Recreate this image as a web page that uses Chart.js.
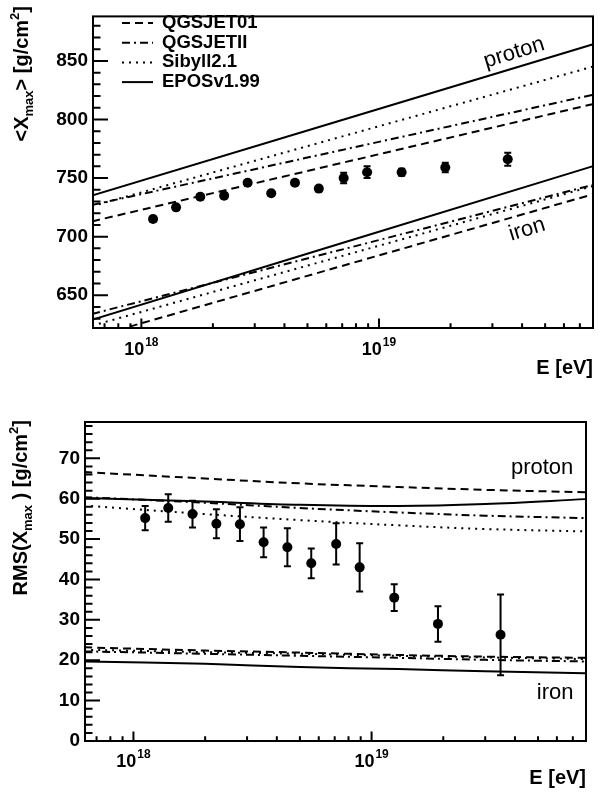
<!DOCTYPE html>
<html>
<head>
<meta charset="utf-8">
<title>Xmax vs energy</title>
<script src="https://cdn.jsdelivr.net/npm/chart.js@4.4.1/dist/chart.umd.min.js"></script>
<style>
  body { margin: 0; background: #fff; }
  .panel { position: absolute; left: 0; width: 598px; height: 397px; }
</style>
</head>
<body>
<div class="panel" style="top:0"><canvas id="meanChart" width="598" height="397"></canvas></div>
<div class="panel" style="top:397px"><canvas id="rmsChart" width="598" height="397"></canvas></div>
<script>
// measured points (energy bins in eV)
const energy = [1.12e18, 1.40e18, 1.77e18, 2.23e18, 2.80e18, 3.52e18, 4.43e18, 5.58e18, 7.10e18, 8.91e18, 1.245e19, 1.90e19, 3.48e19];
const xmaxMean = [715, 725, 734, 735, 746, 737, 746, 741, 750, 755, 755, 759, 766];
const xmaxMeanErr = [2, 2, 2, 2, 2, 2, 2, 2, 4.5, 5, 3, 4, 5.5];
const xmaxRms = [55.2, 57.7, 56.2, 53.8, 53.7, 49.2, 48.0, 44.0, 48.8, 43.0, 35.5, 29.0, 26.3];
const xmaxRmsErr = [3.0, 3.4, 3.3, 3.6, 4.2, 3.7, 4.7, 3.7, 5.1, 6.0, 3.3, 4.4, 10.0];

const modelNames = ['QGSJET01', 'QGSJETII', 'Sibyll2.1', 'EPOSv1.99'];
const modelDash = [[8, 5], [8, 4, 2, 4], [2, 5], []];

// <Xmax> predictions, same order as modelNames
const meanModelEnergy = [6.2e17, 7.9e19];
const meanProton = [[713, 813], [727, 821], [726, 845], [735, 864]];
const meanIron = [[614, 736], [634, 744], [624, 743], [629, 760]];

// RMS(Xmax) predictions
const rmsModelEnergy = [6.2e17, 2e18, 5e18, 1.3e19, 3e19, 7.9e19];
const rmsProton = [
  [66.6, 65.0, 63.8, 62.9, 62.2, 61.6],
  [60.4, 59.0, 57.7, 56.6, 55.8, 55.2],
  [58.3, 56.2, 54.7, 53.4, 52.5, 51.9],
  [60.2, 59.3, 58.5, 58.2, 58.7, 59.9]
];
const rmsIron = [
  [23.2, 22.4, 21.9, 21.3, 20.9, 20.6],
  [22.2, 21.6, 21.1, 20.6, 20.1, 19.7],
  [22.6, 22.0, 21.6, 21.1, 20.7, 20.3],
  [19.7, 19.1, 18.3, 17.8, 17.3, 16.8]
];

const FONT = "'Liberation Sans', Arial, Helvetica, sans-serif";
Chart.defaults.font.family = FONT;
Chart.defaults.color = '#000';

function modelSets(energies, groups) {
  const sets = [];
  groups.forEach(group => group.forEach((vals, m) => {
    sets.push({
      data: energies.map((e, i) => ({x: e, y: vals[i]})),
      borderColor: '#000',
      borderWidth: 2,
      borderDash: modelDash[m],
      pointRadius: 0,
      fill: false,
      tension: 0.35
    });
  }));
  return sets;
}

// ROOT-like frame: box, inward ticks, 10^n labels, y title, legend, error bars, notes
function rootFrame(cfg) {
  return {
    id: 'rootFrame',
    afterDatasetsDraw(chart) {
      const {ctx, chartArea: a, scales: {x, y}} = chart;
      ctx.save();
      ctx.beginPath();
      ctx.rect(a.left, a.top, a.width, a.height);
      ctx.clip();
      ctx.strokeStyle = '#000';
      ctx.lineWidth = 2;
      cfg.values.forEach((v, i) => {
        const px = x.getPixelForValue(energy[i]);
        const lo = y.getPixelForValue(v - cfg.errors[i]);
        const hi = y.getPixelForValue(v + cfg.errors[i]);
        ctx.beginPath();
        ctx.moveTo(px, lo); ctx.lineTo(px, hi);
        ctx.moveTo(px - 3.5, lo); ctx.lineTo(px + 3.5, lo);
        ctx.moveTo(px - 3.5, hi); ctx.lineTo(px + 3.5, hi);
        ctx.stroke();
      });
      ctx.restore();
    },
    afterDraw(chart) {
      const {ctx, chartArea: a, scales: {x, y}} = chart;
      ctx.save();
      ctx.strokeStyle = '#000';
      ctx.fillStyle = '#000';
      ctx.lineWidth = 2;
      ctx.strokeRect(a.left, a.top, a.width, a.height);

      ctx.beginPath();
      for (let v = Math.ceil(y.min / cfg.yMinor) * cfg.yMinor; v <= y.max; v += cfg.yMinor) {
        const py = y.getPixelForValue(v);
        const len = v % cfg.yMajor === 0 ? 15 : 7.5;
        ctx.moveTo(a.left, py); ctx.lineTo(a.left + len, py);
      }
      for (let d = 17; d <= 19; d++) {
        for (let k = 1; k <= 9; k++) {
          const e = k * Math.pow(10, d);
          if (e < x.min || e > x.max) continue;
          const px = x.getPixelForValue(e);
          ctx.moveTo(px, a.bottom); ctx.lineTo(px, a.bottom - (k === 1 ? 9.6 : 4.8));
        }
      }
      ctx.stroke();

      // 10^n labels
      ctx.textBaseline = 'alphabetic';
      ctx.textAlign = 'left';
      for (let d = 17; d <= 20; d++) {
        const e = Math.pow(10, d);
        if (e < x.min || e > x.max) continue;
        const px = x.getPixelForValue(e);
        ctx.font = 'bold 18px ' + FONT;
        const w1 = ctx.measureText('10').width;
        ctx.font = 'bold 12px ' + FONT;
        const w2 = ctx.measureText(String(d)).width;
        const x0 = px - (w1 + w2 + 1) / 2;
        const base = a.bottom + cfg.labelDy;
        ctx.font = 'bold 18px ' + FONT;
        ctx.fillText('10', x0, base);
        ctx.font = 'bold 12px ' + FONT;
        ctx.fillText(String(d), x0 + w1 + 1, base - 9);
      }

      // y title with sub/superscripts, right-aligned to the top
      const fonts = {n: 'bold 20px ' + FONT, s: 'bold 13px ' + FONT};
      let total = 0;
      cfg.yTitle.forEach(p => { ctx.font = p.k === 0 ? fonts.n : fonts.s; total += ctx.measureText(p.t).width; });
      ctx.translate(cfg.yTitleX, cfg.yTitleTop);
      ctx.rotate(-Math.PI / 2);
      let cx = -total;
      cfg.yTitle.forEach(p => {
        ctx.font = p.k === 0 ? fonts.n : fonts.s;
        ctx.fillText(p.t, cx, p.k === -1 ? 5 : (p.k === 1 ? -9 : 0));
        cx += ctx.measureText(p.t).width;
      });
      ctx.setTransform(1, 0, 0, 1, 0, 0);

      // proton / iron notes
      ctx.font = '22px ' + FONT;
      ctx.textAlign = 'center';
      ctx.textBaseline = 'middle';
      cfg.notes.forEach(n => {
        ctx.save();
        ctx.translate(x.getPixelForValue(n.e), y.getPixelForValue(n.v));
        ctx.rotate(n.angle * Math.PI / 180);
        ctx.fillText(n.text, 0, 0);
        ctx.restore();
      });

      // legend
      if (cfg.legend) {
        const L = cfg.legend;
        ctx.font = 'bold 18.5px ' + FONT;
        ctx.textAlign = 'left';
        modelNames.forEach((name, m) => {
          const ly = L.y + m * L.dy;
          ctx.setLineDash(modelDash[m]);
          ctx.beginPath();
          ctx.moveTo(L.x, ly); ctx.lineTo(L.x + 31, ly);
          ctx.stroke();
          ctx.setLineDash([]);
          ctx.fillText(name, L.x + 40, ly);
        });
      }
      ctx.restore();
    }
  };
}

function makePanel(id, p) {
  const points = {
    data: energy.map((e, i) => ({x: e, y: p.values[i]})),
    showLine: false,
    pointRadius: 5,
    pointBorderWidth: 0,
    pointBackgroundColor: '#000'
  };
  new Chart(document.getElementById(id), {
    type: 'line',
    data: {datasets: [points].concat(p.models)},
    options: {
      responsive: false,
      animation: false,
      devicePixelRatio: 1,
      layout: {padding: p.padding},
      plugins: {legend: {display: false}, tooltip: {enabled: false}},
      scales: {
        x: {
          type: 'logarithmic',
          min: 6.26e17,
          max: 7.95e19,
          ticks: {display: false},
          grid: {display: false},
          border: {display: false},
          title: {
            display: true, text: 'E [eV]', align: 'end',
            font: {size: 20, weight: 'bold'}, padding: {top: 0, bottom: p.xTitlePad}
          },
          afterFit: s => { s.height = p.xHeight; }
        },
        y: {
          min: p.yMin,
          max: p.yMax,
          ticks: {stepSize: p.yMajor, includeBounds: false, padding: 5, font: {size: 19, weight: 'bold'}},
          grid: {display: false, drawTicks: false},
          border: {display: false},
          afterFit: s => { s.width = p.yWidth; }
        }
      }
    },
    plugins: [rootFrame(p)]
  });
}

makePanel('meanChart', {
  values: xmaxMean, errors: xmaxMeanErr,
  models: modelSets(meanModelEnergy, [meanProton, meanIron]),
  padding: {top: 7, right: 3, left: 0, bottom: 0},
  yMin: 622, yMax: 888, yMajor: 50, yMinor: 10,
  yWidth: 93, xHeight: 69, xTitlePad: 17, labelDy: 27,
  yTitle: [{t: '<X', k: 0}, {t: 'max', k: -1}, {t: '> [g/cm', k: 0}, {t: '2', k: 1}, {t: ']', k: 0}],
  yTitleX: 28, yTitleTop: 6,
  notes: [{text: 'proton', e: 3.7e19, v: 857, angle: -17}, {text: 'iron', e: 4.2e19, v: 706, angle: -17}],
  legend: {x: 122, y: 23, dy: 19.7}
});

makePanel('rmsChart', {
  values: xmaxRms, errors: xmaxRmsErr,
  models: modelSets(rmsModelEnergy, [rmsProton, rmsIron]),
  padding: {top: 25, right: 12, left: 0, bottom: 0},
  yMin: 0, yMax: 79, yMajor: 10, yMinor: 2,
  yWidth: 85, xHeight: 53, xTitlePad: 4, labelDy: 26,
  yTitle: [{t: 'RMS(X', k: 0}, {t: 'max', k: -1}, {t: ' ) [g/cm', k: 0}, {t: '2', k: 1}, {t: ']', k: 0}],
  yTitleX: 27, yTitleTop: 23,
  notes: [{text: 'proton', e: 5.2e19, v: 67.5, angle: 0}, {text: 'iron', e: 5.9e19, v: 11.9, angle: 0}],
  legend: null
});
</script>
</body>
</html>
